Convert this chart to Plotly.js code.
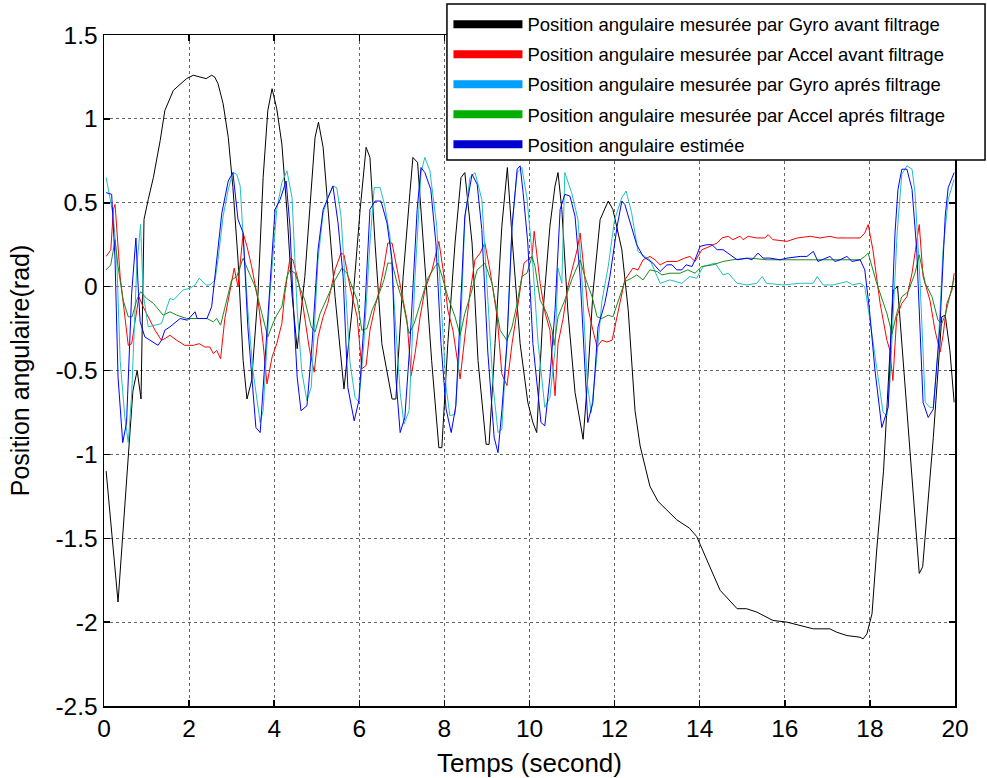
<!DOCTYPE html>
<html>
<head>
<meta charset="utf-8">
<script src="https://cdn.plot.ly/plotly-3.0.1.min.js"></script>
<style>html,body{margin:0;padding:0;background:#fff;}#chart{width:987px;height:778px;}</style>
</head>
<body>
<div id="chart"></div>
<script>
// ---- Data ----
const seriesNames = [
  "Position angulaire mesurée par Gyro avant filtrage",
  "Position angulaire mesurée par Accel avant filtrage",
  "Position angulaire mesurée par Gyro aprés filtrage",
  "Position angulaire mesurée par Accel aprés filtrage",
  "Position angulaire estimée"
];

const tGyroAvant = [0.05,0.33,0.68,0.78,0.87,0.94,1.04,1.16,1.32,1.43,1.63,1.94,2.10,2.25,2.40,2.53,2.60,2.68,2.80,2.92,3.03,3.15,3.27,3.36,3.47,3.62,3.74,3.85,3.95,4.06,4.18,4.30,4.42,4.54,4.72,4.96,5.04,5.15,5.26,5.43,5.64,5.83,6.02,6.16,6.25,6.37,6.53,6.77,6.86,7.03,7.19,7.26,7.37,7.50,7.70,7.87,7.94,8.08,8.25,8.39,8.48,8.65,8.79,8.98,9.05,9.19,9.35,9.48,9.60,9.78,9.96,10.08,10.17,10.32,10.48,10.60,10.67,10.76,10.90,11.07,11.26,11.37,11.49,11.66,11.85,11.96,12.17,12.32,12.48,12.60,12.83,13.02,13.22,13.46,13.76,13.93,14.17,14.48,14.88,15.10,15.34,15.72,16.05,16.36,16.67,17.06,17.22,17.46,17.77,17.84,17.93,18.05,18.16,18.32,18.55,18.65,18.94,19.16,19.24,19.49,19.69,19.77,19.88,19.98];
const gyroAvant = [-1.10,-1.88,-0.62,-0.50,-0.67,0.40,0.52,0.65,0.87,1.05,1.17,1.24,1.26,1.25,1.24,1.26,1.25,1.21,1.09,0.89,0.59,0.16,-0.44,-0.67,-0.56,-0.04,0.65,1.05,1.18,1.06,0.85,0.45,-0.05,-0.37,0.06,0.89,0.98,0.83,0.46,-0.06,-0.61,-0.14,0.46,0.83,0.77,0.26,-0.34,-0.67,-0.67,0.06,0.56,0.77,0.74,0.26,-0.44,-0.96,-0.96,-0.34,0.26,0.65,0.68,0.26,-0.44,-0.94,-0.94,-0.34,0.36,0.71,0.26,-0.34,-0.69,-0.81,-0.87,-0.14,0.36,0.60,0.68,0.46,-0.14,-0.63,-0.91,-0.54,-0.04,0.40,0.51,0.46,0.22,-0.14,-0.74,-0.95,-1.19,-1.28,-1.33,-1.39,-1.44,-1.49,-1.63,-1.81,-1.92,-1.92,-1.94,-1.99,-2.00,-2.02,-2.04,-2.04,-2.06,-2.08,-2.09,-2.10,-2.07,-1.95,-1.57,-1.10,-0.02,0.00,-0.97,-1.71,-1.67,-0.90,-0.18,-0.17,-0.38,-0.69];

const tAccelAvant = [0.05,0.16,0.22,0.26,0.38,0.57,0.65,0.82,0.92,1.08,1.20,1.35,1.43,1.55,1.71,1.90,2.10,2.24,2.37,2.49,2.57,2.65,2.74,2.84,2.96,3.06,3.15,3.27,3.36,3.47,3.62,3.74,3.83,3.95,4.06,4.18,4.25,4.37,4.44,4.56,4.68,4.82,4.94,5.03,5.15,5.26,5.43,5.57,5.64,5.78,5.95,6.06,6.16,6.25,6.37,6.49,6.58,6.67,6.77,6.89,7.00,7.12,7.22,7.31,7.43,7.54,7.71,7.80,7.87,7.97,8.08,8.20,8.30,8.37,8.48,8.60,8.72,8.84,8.95,9.07,9.24,9.35,9.47,9.59,9.71,9.82,9.87,9.96,10.06,10.11,10.18,10.25,10.36,10.48,10.55,10.60,10.67,10.79,10.90,11.02,11.12,11.19,11.26,11.37,11.49,11.59,11.70,11.82,11.94,12.06,12.24,12.43,12.55,12.67,12.83,12.95,13.07,13.23,13.46,13.65,13.77,13.89,14.05,14.24,14.41,14.52,14.67,14.78,14.95,15.02,15.14,15.34,15.53,15.61,15.72,16.05,16.29,16.60,16.83,17.06,17.22,17.46,17.77,17.88,17.96,18.07,18.24,18.40,18.47,18.54,18.63,18.75,18.87,18.99,19.10,19.16,19.25,19.41,19.53,19.65,19.72,19.81,19.93,19.98];
const accelAvant = [0.18,0.22,0.46,0.49,0.06,-0.35,-0.34,-0.06,-0.12,-0.20,-0.26,-0.32,-0.31,-0.29,-0.32,-0.35,-0.35,-0.34,-0.36,-0.36,-0.40,-0.38,-0.43,-0.19,-0.02,0.11,0.00,0.32,0.24,0.12,-0.08,-0.34,-0.58,-0.42,-0.34,-0.22,-0.04,0.17,0.16,0.04,-0.12,-0.36,-0.51,-0.30,-0.18,-0.10,0.10,0.20,0.19,0.00,-0.18,-0.49,-0.47,-0.26,-0.12,0.00,0.12,0.26,0.26,0.10,-0.06,-0.20,-0.53,-0.40,-0.18,-0.02,0.10,0.20,0.27,0.10,-0.14,-0.26,-0.44,-0.55,-0.30,-0.04,0.16,0.20,0.26,0.10,-0.18,-0.52,-0.59,-0.34,-0.14,0.06,0.14,0.16,0.18,0.33,0.16,0.02,-0.15,-0.26,-0.48,-0.65,-0.34,-0.19,0.00,0.12,0.22,0.32,0.16,-0.12,-0.26,-0.36,-0.32,-0.33,-0.32,-0.18,0.04,0.11,0.10,0.16,0.18,0.16,0.13,0.15,0.15,0.17,0.18,0.15,0.22,0.24,0.26,0.29,0.30,0.28,0.30,0.28,0.30,0.29,0.29,0.31,0.28,0.27,0.29,0.30,0.29,0.30,0.29,0.29,0.29,0.32,0.37,0.22,-0.10,-0.32,-0.38,-0.56,-0.18,-0.10,-0.06,0.08,0.26,0.37,0.06,-0.08,-0.26,-0.39,-0.29,-0.10,-0.02,0.08];

const tGyroApres = [0.05,0.14,0.22,0.30,0.38,0.49,0.57,0.65,0.77,0.86,0.92,1.04,1.20,1.35,1.43,1.55,1.63,1.86,2.02,2.14,2.24,2.40,2.49,2.61,2.68,2.80,2.92,3.03,3.12,3.20,3.27,3.38,3.50,3.67,3.74,3.90,4.06,4.18,4.30,4.42,4.54,4.65,4.77,4.87,5.03,5.15,5.26,5.38,5.47,5.57,5.66,5.78,5.90,5.99,6.11,6.25,6.35,6.49,6.60,6.72,6.84,6.96,7.05,7.17,7.31,7.45,7.54,7.66,7.82,7.94,8.04,8.13,8.25,8.37,8.48,8.60,8.72,8.88,9.02,9.14,9.26,9.35,9.47,9.59,9.71,9.82,9.94,10.06,10.20,10.36,10.48,10.60,10.67,10.76,10.83,10.99,11.14,11.23,11.36,11.45,11.56,11.70,11.85,12.00,12.17,12.27,12.40,12.55,12.71,12.83,13.07,13.30,13.58,13.77,13.93,14.08,14.36,14.55,14.67,14.88,15.11,15.34,15.47,15.57,15.96,16.36,16.67,16.76,16.90,17.13,17.46,17.60,17.77,17.88,17.99,18.16,18.31,18.40,18.47,18.64,18.75,18.87,18.99,19.06,19.18,19.30,19.41,19.49,19.60,19.72,19.84,19.98];
const gyroApres = [0.65,0.52,0.42,0.16,-0.44,-0.78,-0.93,-0.64,0.12,0.37,-0.04,-0.24,-0.23,-0.22,-0.16,-0.07,-0.08,-0.02,-0.01,0.01,0.05,0.01,0.01,0.04,0.16,0.42,0.58,0.68,0.67,0.60,0.30,-0.14,-0.50,-0.81,-0.74,-0.04,0.46,0.62,0.69,0.53,-0.14,-0.51,-0.68,-0.60,0.16,0.44,0.53,0.60,0.59,0.42,0.06,-0.45,-0.66,-0.69,-0.33,0.26,0.59,0.59,0.48,0.30,-0.18,-0.63,-0.82,-0.74,0.06,0.68,0.77,0.69,0.36,-0.14,-0.60,-0.77,-0.76,-0.33,0.40,0.65,0.68,0.52,-0.04,-0.58,-0.87,-0.85,-0.33,0.36,0.68,0.71,0.53,0.20,-0.33,-0.72,-0.66,-0.38,0.11,0.02,0.68,0.56,0.40,0.06,-0.58,-0.75,-0.48,-0.09,0.12,0.40,0.53,0.57,0.44,0.21,0.18,0.16,0.02,0.04,0.02,0.06,0.05,0.12,0.14,0.07,0.08,0.02,0.01,0.02,0.06,0.02,0.01,0.02,0.02,0.06,0.01,0.01,0.03,0.01,0.02,0.00,-0.18,-0.50,-0.75,-0.77,-0.57,0.32,0.67,0.72,0.70,0.56,0.02,-0.69,-0.72,-0.72,-0.38,0.22,0.52,0.64];

const tAccelApres = [0.05,0.16,0.26,0.33,0.45,0.57,0.66,0.77,0.86,1.00,1.16,1.28,1.39,1.55,1.71,1.94,2.18,2.42,2.57,2.65,2.74,2.84,3.00,3.12,3.27,3.38,3.55,3.71,3.85,3.97,4.06,4.18,4.30,4.37,4.49,4.61,4.72,4.87,4.96,5.08,5.26,5.43,5.59,5.71,5.83,5.95,6.06,6.18,6.30,6.44,6.58,6.67,6.77,6.89,7.03,7.17,7.29,7.47,7.61,7.78,7.85,7.97,8.08,8.25,8.37,8.48,8.65,8.77,8.95,9.12,9.31,9.47,9.59,9.71,9.82,9.94,10.06,10.13,10.25,10.41,10.53,10.58,10.67,10.83,10.99,11.19,11.30,11.47,11.59,11.70,11.85,11.96,12.08,12.24,12.40,12.52,12.67,12.83,13.00,13.11,13.30,13.54,13.72,13.89,14.05,14.31,14.55,14.78,15.18,15.58,15.96,16.36,16.76,17.13,17.53,17.77,17.88,17.96,18.16,18.40,18.52,18.63,18.75,18.90,19.06,19.16,19.30,19.46,19.60,19.69,19.77,19.88,19.98];
const accelApres = [0.10,0.13,0.28,0.12,-0.08,-0.18,-0.18,-0.08,-0.03,-0.07,-0.10,-0.14,-0.17,-0.15,-0.17,-0.19,-0.19,-0.19,-0.21,-0.19,-0.23,-0.12,0.04,0.06,0.17,0.10,0.00,-0.16,-0.30,-0.22,-0.17,-0.12,0.06,0.10,0.08,-0.01,-0.08,-0.24,-0.27,-0.16,-0.06,0.04,0.11,0.08,0.00,-0.08,-0.26,-0.25,-0.14,-0.06,0.04,0.14,0.14,0.02,-0.10,-0.28,-0.22,-0.06,0.05,0.12,0.14,0.04,-0.06,-0.18,-0.29,-0.16,-0.02,0.10,0.14,0.02,-0.26,-0.32,-0.24,-0.10,0.06,0.08,0.18,0.12,-0.08,-0.16,-0.26,-0.35,-0.18,-0.08,0.04,0.16,0.06,-0.06,-0.18,-0.19,-0.17,-0.18,-0.09,0.03,0.05,0.07,0.04,0.10,0.09,0.07,0.08,0.08,0.10,0.08,0.12,0.13,0.15,0.16,0.17,0.16,0.16,0.16,0.16,0.16,0.16,0.16,0.18,0.20,0.02,-0.16,-0.28,-0.16,-0.06,-0.03,0.08,0.19,0.02,-0.06,-0.20,-0.22,-0.17,-0.06,0.05];

const tEstimee = [0.05,0.18,0.26,0.33,0.44,0.53,0.65,0.75,0.81,0.85,0.96,1.27,1.35,1.43,1.55,1.79,1.96,2.14,2.19,2.42,2.53,2.65,2.77,2.92,3.03,3.15,3.27,3.38,3.57,3.67,3.83,4.02,4.14,4.28,4.37,4.44,4.54,4.63,4.77,4.89,5.03,5.15,5.38,5.50,5.62,5.73,5.88,5.99,6.13,6.25,6.37,6.51,6.65,6.77,6.86,6.96,7.07,7.19,7.36,7.45,7.54,7.68,7.80,7.92,8.04,8.16,8.27,8.37,8.48,8.65,8.77,8.88,9.02,9.17,9.26,9.35,9.47,9.59,9.71,9.78,9.85,9.96,10.08,10.27,10.36,10.48,10.60,10.72,10.83,10.95,11.07,11.19,11.30,11.37,11.49,11.61,11.77,11.89,12.06,12.17,12.24,12.40,12.52,12.67,12.90,13.07,13.23,13.35,13.46,13.58,13.68,13.82,13.89,14.01,14.17,14.29,14.41,14.55,14.71,14.88,15.11,15.23,15.37,15.49,15.65,15.89,16.05,16.36,16.52,16.67,16.78,16.99,17.06,17.18,17.30,17.46,17.58,17.77,17.88,17.99,18.12,18.28,18.43,18.59,18.66,18.75,18.87,18.99,19.10,19.25,19.37,19.49,19.65,19.77,19.84,19.98];
const estimee = [0.56,0.55,0.16,-0.54,-0.93,-0.81,-0.04,0.29,-0.04,-0.21,-0.30,-0.35,-0.32,-0.26,-0.24,-0.19,-0.20,-0.15,-0.19,-0.19,-0.12,0.16,0.44,0.63,0.68,0.40,0.32,-0.24,-0.84,-0.87,-0.24,0.46,0.52,0.63,0.36,-0.06,-0.54,-0.74,-0.71,-0.34,0.22,0.46,0.60,0.38,0.06,-0.60,-0.80,-0.68,-0.14,0.46,0.51,0.51,0.38,0.16,-0.54,-0.87,-0.78,-0.34,0.46,0.71,0.68,0.58,0.26,-0.34,-0.73,-0.87,-0.71,-0.14,0.42,0.67,0.61,0.34,-0.39,-0.90,-0.99,-0.74,-0.34,0.36,0.70,0.72,0.56,0.26,-0.34,-0.81,-0.83,-0.54,-0.14,0.46,0.55,0.54,0.42,0.06,-0.50,-0.81,-0.69,-0.24,-0.10,0.06,0.36,0.51,0.49,0.36,0.25,0.18,0.14,0.09,0.13,0.13,0.10,0.10,0.13,0.12,0.16,0.24,0.25,0.25,0.22,0.22,0.19,0.16,0.17,0.16,0.20,0.17,0.17,0.16,0.17,0.18,0.18,0.21,0.15,0.17,0.18,0.15,0.16,0.18,0.15,0.16,0.10,-0.14,-0.50,-0.84,-0.72,0.32,0.58,0.70,0.70,0.58,0.22,-0.69,-0.78,-0.73,-0.22,0.42,0.59,0.68];

const xTickVals = [0,2,4,6,8,10,12,14,16,18,20];
const xTickText = ["0","2","4","6","8","10","12","14","16","18","20"];
const yTickVals = [-2.5,-2,-1.5,-1,-0.5,0,0.5,1,1.5];
const yTickText = ["-2.5","-2","-1.5","-1","-0.5","0","0.5","1","1.5"];

// ---- Styles ----
const plotColors = ["#000000","#ff0000","#22bfbf","#1c8a1c","#0000ff"];
const legendColors = ["#000000","#ff0000","#00a0ff","#00b000","#0000d0"];
const FONT = "Liberation Sans, Arial, sans-serif";

const xs = [tGyroAvant, tAccelAvant, tGyroApres, tAccelApres, tEstimee];
const ys = [gyroAvant, accelAvant, gyroApres, accelApres, estimee];

const traces = [];
for (let i = 0; i < 5; i++) {
  traces.push({
    type: "scatter", mode: "lines",
    x: xs[i], y: ys[i],
    line: {color: plotColors[i], width: 1},
    showlegend: false, hoverinfo: "skip"
  });
}
for (let i = 0; i < 5; i++) {
  traces.push({
    type: "scatter", mode: "lines",
    x: [null], y: [null],
    name: seriesNames[i],
    legendgroup: "g" + i,
    line: {color: legendColors[i], width: 8},
    showlegend: true
  });
}

const axisCommon = {
  showline: true, linecolor: "#000", linewidth: 1.5,
  mirror: "allticks", ticks: "inside", ticklen: 6, tickwidth: 1.5, tickcolor: "#000",
  showgrid: true, gridcolor: "#666", griddash: "dot", gridwidth: 1,
  zeroline: false, tickfont: {family: FONT, size: 24.5, color: "#000"},
  tickmode: "array", automargin: false
};

const layout = {
  width: 987, height: 778,
  paper_bgcolor: "#fff", plot_bgcolor: "#fff",
  margin: {l: 104, r: 32, t: 35, b: 72, pad: 0, autoexpand: false},
  font: {family: FONT, color: "#000"},
  xaxis: Object.assign({}, axisCommon, {
    range: [0, 20], tickvals: xTickVals, ticktext: xTickText,
    title: {text: "Temps (second)", font: {family: FONT, size: 26, color: "#000"}, standoff: 13}
  }),
  yaxis: Object.assign({}, axisCommon, {
    range: [-2.5, 1.5], tickvals: yTickVals, ticktext: yTickText,
    title: {text: "Position angulaire(rad)", font: {family: FONT, size: 25, color: "#000"}, standoff: 18}
  }),
  // legend box frame (white background with black border), drawn above the data
  shapes: [{
    type: "rect", xref: "paper", yref: "paper", layer: "above",
    x0: 0.403, x1: 1.0353, y0: 0.8137, y1: 1.0462,
    fillcolor: "#fff", line: {color: "#000", width: 1.5}
  }],
  legend: {
    x: 0.403, xanchor: "left", y: 1.046, yanchor: "top",
    bgcolor: "rgba(0,0,0,0)", bordercolor: "rgba(0,0,0,0)", borderwidth: 1.5,
    font: {family: FONT, size: 18.5, color: "#000"},
    itemwidth: 69, tracegroupgap: 3, traceorder: "grouped"
  },
  showlegend: true
};

Plotly.newPlot("chart", traces, layout, {displayModeBar: false, staticPlot: true});
</script>
</body>
</html>
